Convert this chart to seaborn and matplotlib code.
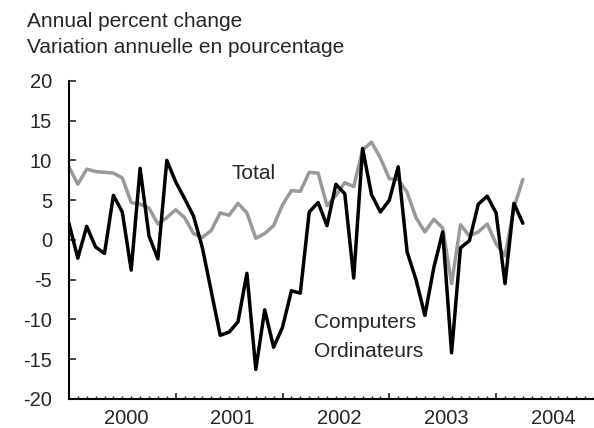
import numpy as np
import pandas as pd
import matplotlib
matplotlib.use("Agg")
import matplotlib.pyplot as plt
import matplotlib.transforms as mtransforms
import seaborn as sns
from matplotlib.ticker import MultipleLocator, NullFormatter

# monthly series, Jan 2000 .. Apr 2004
computers = [2.1, -2.3, 1.7, -0.9, -1.7, 5.6, 3.5, -3.8, 9.0, 0.5,
             -2.4, 10.0, 7.3, 5.2, 3.0, -1.0, -6.5, -12.0, -11.6, -10.3,
             -4.2, -16.3, -8.8, -13.5, -11.0, -6.4, -6.7, 3.5, 4.7, 1.8,
             7.0, 5.8, -4.8, 11.5, 5.7, 3.5, 5.0, 9.2, -1.5, -5.0,
             -9.5, -3.5, 1.0, -14.2, -1.0, -0.1, 4.5, 5.5, 3.4, -5.5,
             4.6, 2.1]
total = [9.2, 7.0, 8.9, 8.6, 8.5, 8.4, 7.8, 4.7, 4.5, 4.0,
         2.0, 2.8, 3.8, 2.8, 0.8, 0.3, 1.2, 3.4, 3.1, 4.6,
         3.4, 0.2, 0.8, 1.8, 4.4, 6.2, 6.1, 8.5, 8.4, 4.3,
         5.6, 7.2, 6.7, 11.3, 12.3, 10.3, 7.7, 7.6, 6.0, 2.8,
         1.0, 2.6, 1.5, -5.5, 1.9, 0.5, 1.0, 2.0, -0.5, -2.0,
         4.0, 7.6]
years = ["2000", "2001", "2002", "2003", "2004"]
y_ticks = [-20, -15, -10, -5, 0, 5, 10, 15, 20]

months = np.arange(len(total))
df = pd.DataFrame({"month": months, "Total": total, "Computers": computers})

sns.set_style("ticks")
plt.rcParams["font.family"] = ["Liberation Sans", "DejaVu Sans"]

fig = plt.figure(figsize=(5.94, 4.28), dpi=100)
ax = fig.add_axes([0.116, 0.068, 0.884, 0.743])

sns.lineplot(data=df, x="month", y="Total", color="#999999", linewidth=2.5,
             ax=ax, solid_joinstyle="round", solid_capstyle="round")
sns.lineplot(data=df, x="month", y="Computers", color="black", linewidth=2.5,
             ax=ax, solid_joinstyle="round", solid_capstyle="round")

ax.set_xlim(0, 59)
ax.set_ylim(-20, 20)
ax.set_yticks(y_ticks)
ax.set_yticklabels([str(v) for v in y_ticks], fontsize=14.5)
ax.tick_params(axis="y", direction="in", length=5, width=1.2, pad=12)

# year boundaries as major ticks, months as minor ticks
ax.xaxis.set_major_locator(MultipleLocator(12))
ax.xaxis.set_major_formatter(NullFormatter())
ax.xaxis.set_minor_locator(MultipleLocator(1))
ax.tick_params(axis="x", which="major", direction="in", length=4, width=1.2)
ax.tick_params(axis="x", which="minor", direction="in", length=2.2, width=1.0)

# year labels, roughly mid-year
trans = mtransforms.blended_transform_factory(ax.transData, ax.transAxes)
for i, yr in enumerate(years):
    ax.text(12 * i + 6.4, -0.063, yr, transform=trans, fontsize=14.5,
            ha="center", va="center")

ax.set_xlabel("")
ax.set_ylabel("")
for s in ["top", "right"]:
    ax.spines[s].set_visible(False)
for s in ["left", "bottom"]:
    ax.spines[s].set_linewidth(1.5)
    ax.spines[s].set_color("black")

ax.text(20.7, 8.4, "Total", fontsize=15, ha="center", va="center")
ax.text(27.5, -10.4, "Computers", fontsize=15, ha="left", va="center")
ax.text(27.5, -14.1, "Ordinateurs", fontsize=15, ha="left", va="center")

fig.text(0.045, 1 - 27.3 / 428, "Annual percent change", fontsize=15,
         ha="left", va="baseline")
fig.text(0.045, 1 - 53.3 / 428, "Variation annuelle en pourcentage", fontsize=15,
         ha="left", va="baseline")

fig.savefig("out.png", dpi=100)
